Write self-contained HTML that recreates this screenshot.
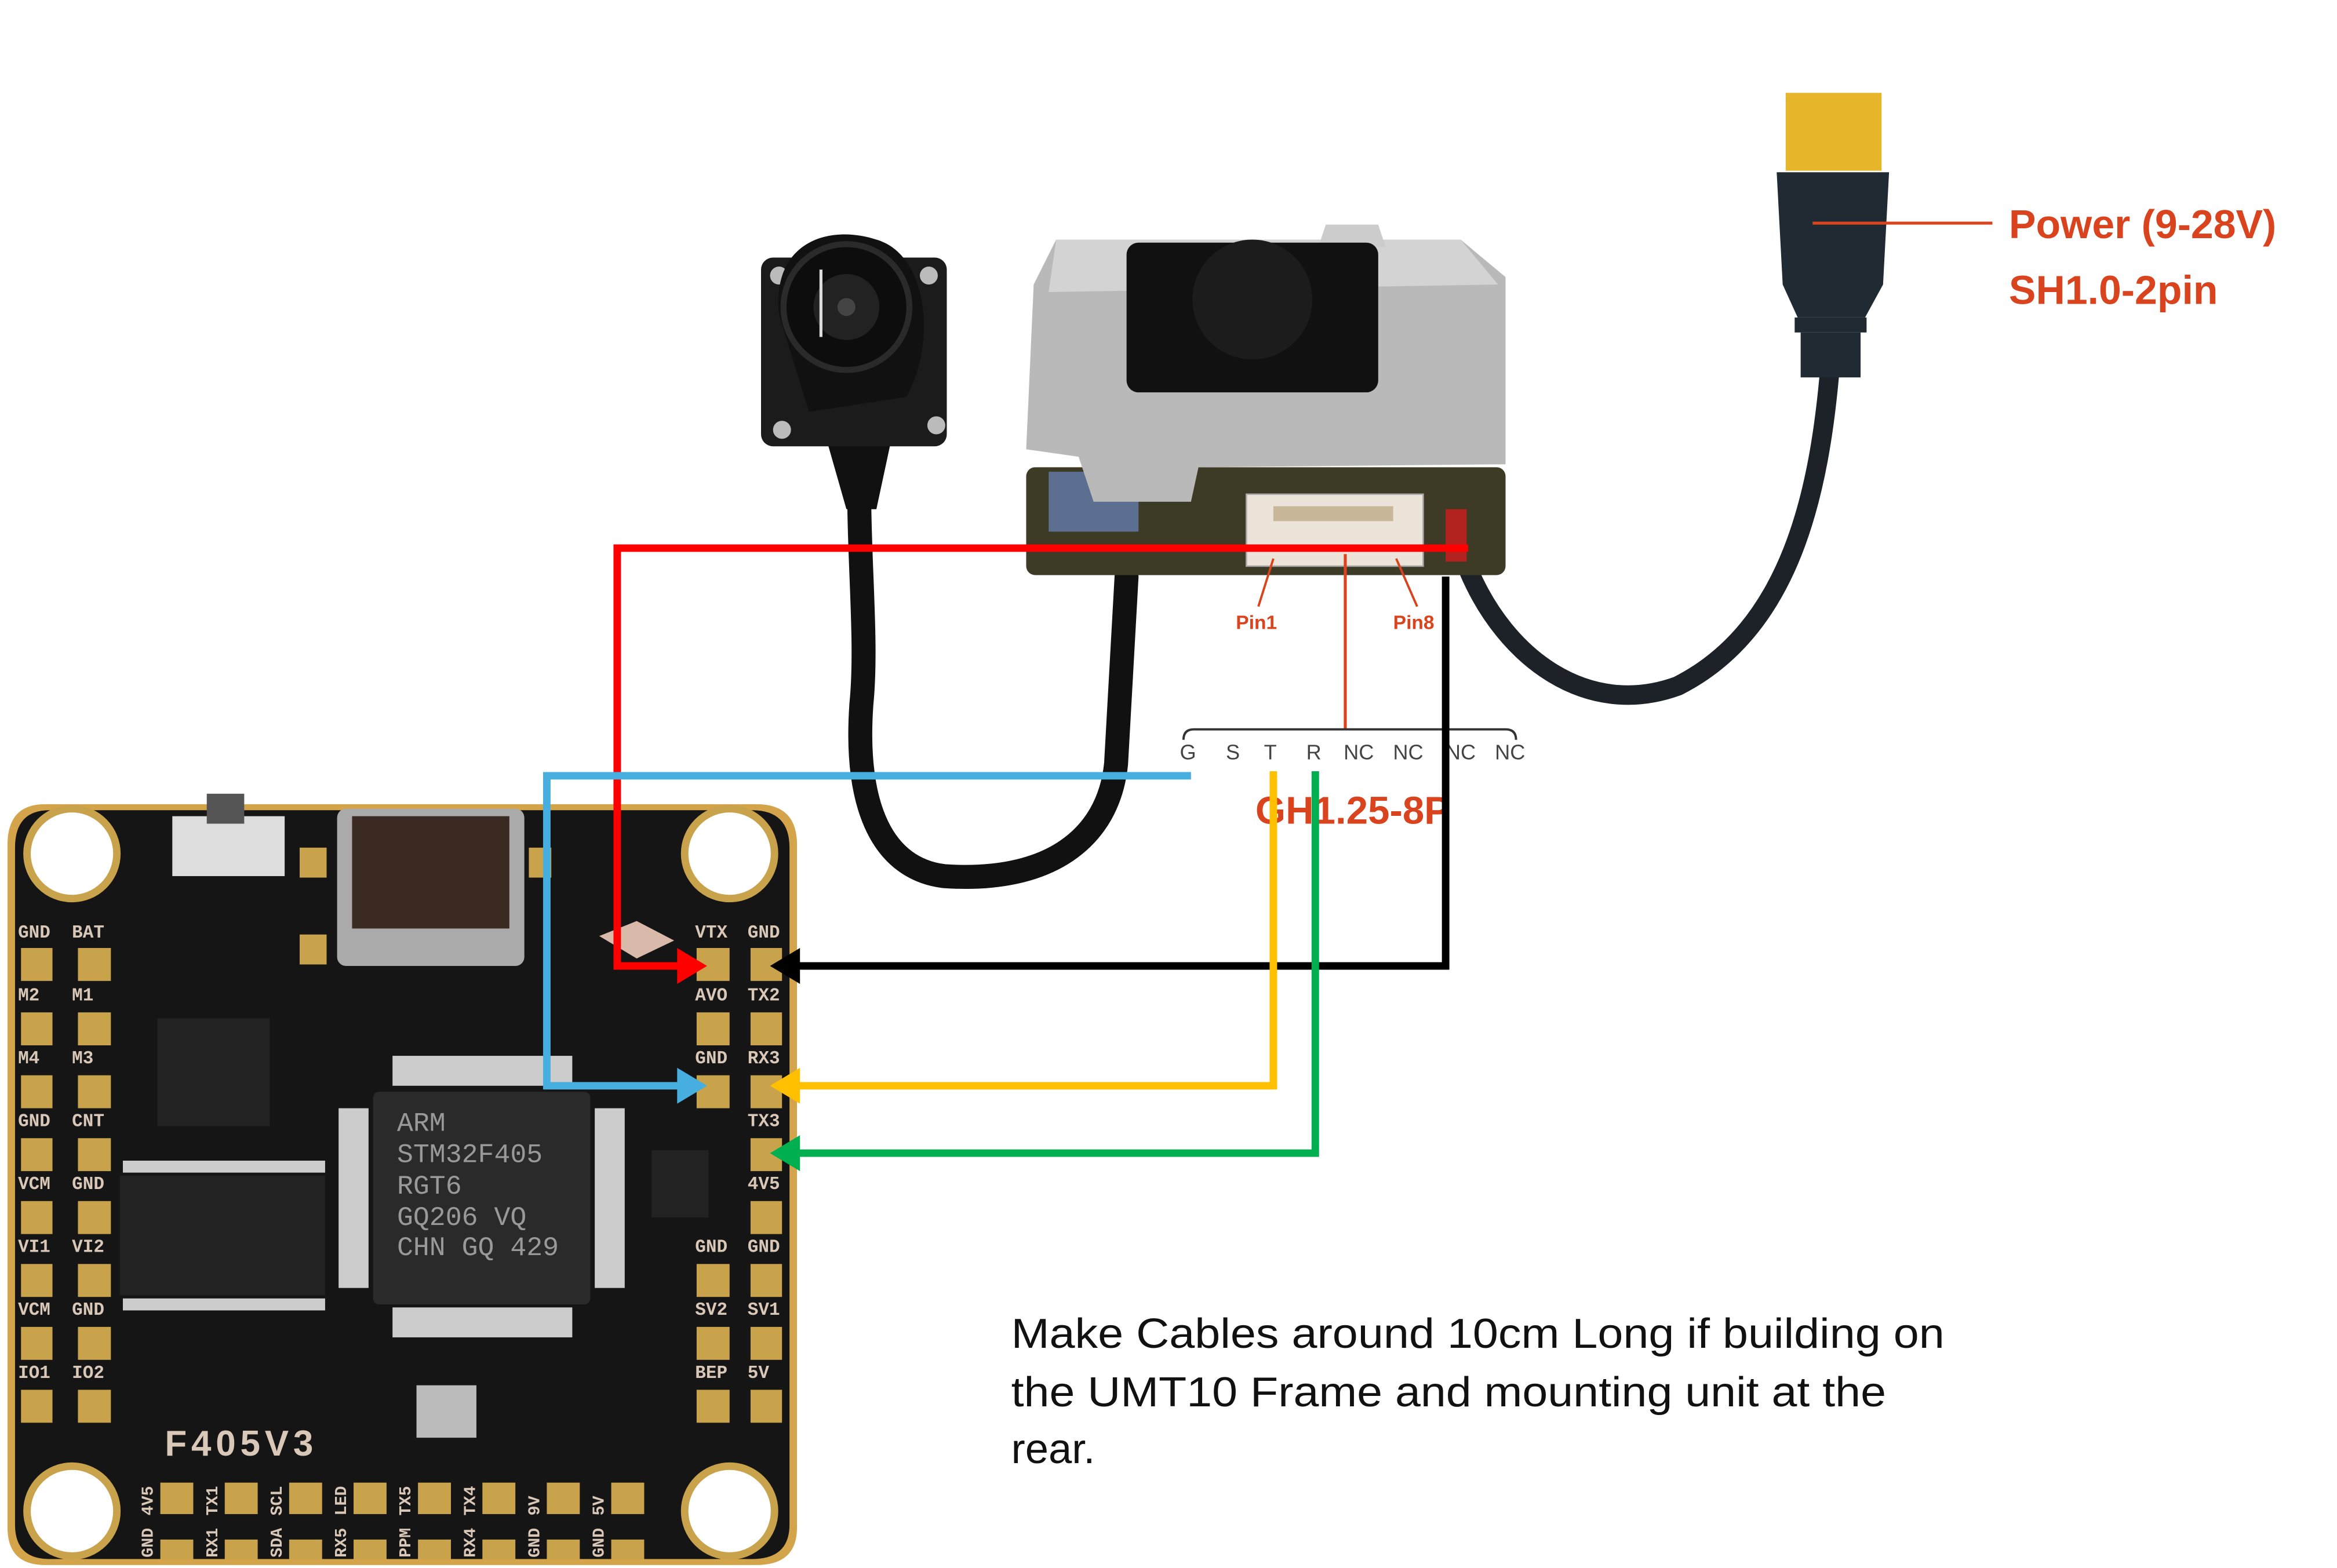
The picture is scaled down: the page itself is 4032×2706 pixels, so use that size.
<!DOCTYPE html>
<html><head><meta charset="utf-8"><style>
html,body{margin:0;padding:0;background:#fff;width:4032px;height:2706px;overflow:hidden}
svg{display:block}
</style></head><body>
<svg width="4032" height="2706" viewBox="0 0 1560 1047" xmlns="http://www.w3.org/2000/svg" font-family="Liberation Sans, sans-serif">
<rect width="1560" height="1047" fill="#fff"/>

<!-- Power cable -->
<path d="M1222 240 C1215 330 1195 420 1120 458 C1060 480 1005 440 980 380" fill="none" stroke="#1c2228" stroke-width="13" stroke-linecap="round"/>
<rect x="1192" y="62" width="64" height="52" fill="#e6b52a"/>
<path d="M1186 115 L1261 115 L1257 190 L1245 212 L1200 212 L1190 190 Z" fill="#1f2a33"/>
<rect x="1198" y="212" width="48" height="10" fill="#1f2a33"/>
<rect x="1202" y="222" width="40" height="30" fill="#1f2a33"/>
<line x1="1210" y1="149" x2="1330" y2="149" stroke="#d9431e" stroke-width="2"/>
<text x="1341" y="159" font-size="27" font-weight="bold" fill="#d9431e">Power (9-28V)</text>
<text x="1341" y="203" font-size="27" font-weight="bold" fill="#d9431e">SH1.0-2pin</text>

<!-- Camera cable -->
<path d="M575 290 C570 350 580 420 575 470 C570 540 590 580 630 585 C700 590 740 560 745 510 C748 460 750 420 752 385" fill="none" stroke="#111" stroke-width="16" stroke-linecap="round"/>
<path d="M545 270 L600 270 L585 340 L565 340 Z" fill="#111"/>
<!-- Camera -->
<rect x="508" y="172" width="124" height="126" rx="8" fill="#1b1b1b"/>
<circle cx="520" cy="184" r="6" fill="#bbb"/><circle cx="620" cy="184" r="6" fill="#bbb"/>
<circle cx="522" cy="287" r="6" fill="#bbb"/><circle cx="625" cy="284" r="6" fill="#bbb"/>
<path d="M520 210 C515 160 555 150 585 160 C620 170 625 230 605 265 L540 275 Z" fill="#111"/>
<circle cx="565" cy="205" r="42" fill="#0d0d0d" stroke="#2a2a2a" stroke-width="4"/>
<circle cx="565" cy="205" r="22" fill="#222"/>
<circle cx="565" cy="205" r="6" fill="#444"/>
<line x1="548" y1="180" x2="548" y2="225" stroke="#ddd" stroke-width="2"/>

<!-- VTX -->
<rect x="685" y="312" width="320" height="72" rx="6" fill="#3d3a25"/>
<rect x="700" y="315" width="60" height="40" fill="#5d6f90"/>
<path d="M705 160 L975 160 L1005 185 L1005 310 L800 312 L795 335 L730 335 L720 305 L685 300 L690 190 Z" fill="#b9b9b9"/>
<path d="M705 160 L975 160 L1000 190 L700 195 Z" fill="#d3d3d3"/>
<path d="M885 150 L920 150 L925 165 L880 165 Z" fill="#ccc"/>
<rect x="752" y="162" width="168" height="100" rx="8" fill="#111"/>
<circle cx="836" cy="200" r="40" fill="#1c1c1c"/>
<rect x="832" y="330" width="118" height="48" fill="#ece4d8" stroke="#aaa"/>
<rect x="850" y="338" width="80" height="10" fill="#c9b79a"/>
<rect x="965" y="340" width="14" height="35" fill="#b2231f"/>
<line x1="850" y1="373" x2="840" y2="405" stroke="#d9431e" stroke-width="1.5"/>
<line x1="932" y1="373" x2="946" y2="405" stroke="#d9431e" stroke-width="1.5"/>
<text x="825" y="420" font-size="13" font-weight="bold" fill="#d9431e">Pin1</text>
<text x="930" y="420" font-size="13" font-weight="bold" fill="#d9431e">Pin8</text>
<line x1="898" y1="370" x2="898" y2="487" stroke="#d9431e" stroke-width="2"/>
<path d="M790 494 Q790 487 797 487 L1005 487 Q1012 487 1012 494" fill="none" stroke="#333" stroke-width="1.5"/>
<g font-size="14" fill="#444" text-anchor="middle">
<text x="793" y="507">G</text><text x="823" y="507">S</text><text x="848" y="507">T</text><text x="877" y="507">R</text>
<text x="907" y="507">NC</text><text x="940" y="507">NC</text><text x="975" y="507">NC</text><text x="1008" y="507">NC</text>
</g>
<text x="838" y="550" font-size="26" font-weight="bold" fill="#d9431e">GH1.25-8P</text>

<!-- Flight controller -->
<path d="M30 537 L505 537 Q532 537 532 564 L532 1020 Q532 1045 505 1045 L30 1045 Q5 1045 5 1020 L5 564 Q5 537 30 537 Z" fill="#d3a44a"/>
<path d="M33 541 L502 541 Q527 541 527 566 L527 1018 Q527 1041 502 1041 L33 1041 Q10 1041 10 1018 L10 566 Q10 541 33 541 Z" fill="#151515"/>
<g fill="#fff" stroke="#c9a24c" stroke-width="5">
<circle cx="48" cy="570" r="30"/><circle cx="487" cy="570" r="30"/><circle cx="48" cy="1009" r="30"/><circle cx="487" cy="1009" r="30"/>
</g>
<rect x="115" y="545" width="75" height="40" fill="#ddd"/><rect x="138" y="530" width="25" height="20" fill="#555"/>
<rect x="225" y="540" width="125" height="105" rx="6" fill="#aaa"/>
<rect x="235" y="545" width="105" height="75" fill="#3a2a22"/>
<rect x="200" y="566" width="18" height="20" fill="#c9a24c"/><rect x="200" y="624" width="18" height="20" fill="#c9a24c"/>
<rect x="353" y="566" width="15" height="20" fill="#c9a24c"/>
<path d="M400 625 L425 615 L450 628 L425 640 Z" fill="#d8b9aa"/>
<rect x="105" y="680" width="75" height="72" fill="#222"/>
<rect x="80" y="785" width="137" height="80" fill="#222"/>
<g fill="#ccc"><rect x="82" y="775" width="135" height="8"/><rect x="82" y="867" width="135" height="8"/></g>
<rect x="249" y="729" width="145" height="142" rx="4" fill="#2a2a2a"/>
<g fill="#ccc"><rect x="262" y="705" width="120" height="20"/><rect x="262" y="873" width="120" height="20"/><rect x="226" y="740" width="20" height="120"/><rect x="397" y="740" width="20" height="120"/></g>
<g fill="#999" font-size="18" font-family="Liberation Mono, monospace">
<text x="265" y="755">ARM</text><text x="265" y="776">STM32F405</text><text x="265" y="797">RGT6</text><text x="265" y="818">GQ206 VQ</text><text x="265" y="838">CHN GQ 429</text>
</g>
<rect x="435" y="768" width="38" height="45" fill="#222"/>
<rect x="278" y="925" width="40" height="35" fill="#bbb"/>
<text x="110" y="972" font-size="24" font-weight="bold" fill="#d9c7b8" letter-spacing="3">F405V3</text>
<g fill="#c9a24c">
<rect x="14" y="633" width="21" height="22"/><rect x="52" y="633" width="22" height="22"/>
<rect x="14" y="676" width="21" height="22"/><rect x="52" y="676" width="22" height="22"/>
<rect x="14" y="718" width="21" height="22"/><rect x="52" y="718" width="22" height="22"/>
<rect x="14" y="760" width="21" height="22"/><rect x="52" y="760" width="22" height="22"/>
<rect x="14" y="802" width="21" height="22"/><rect x="52" y="802" width="22" height="22"/>
<rect x="14" y="844" width="21" height="22"/><rect x="52" y="844" width="22" height="22"/>
<rect x="14" y="886" width="21" height="22"/><rect x="52" y="886" width="22" height="22"/>
<rect x="14" y="928" width="21" height="22"/><rect x="52" y="928" width="22" height="22"/>
<rect x="465" y="633" width="22" height="22"/><rect x="501" y="633" width="21" height="22"/>
<rect x="465" y="676" width="22" height="22"/><rect x="501" y="676" width="21" height="22"/>
<rect x="465" y="718" width="22" height="22"/><rect x="501" y="718" width="21" height="22"/>
<rect x="501" y="760" width="21" height="22"/>
<rect x="501" y="802" width="21" height="22"/>
<rect x="465" y="844" width="22" height="22"/><rect x="501" y="844" width="21" height="22"/>
<rect x="465" y="886" width="22" height="22"/><rect x="501" y="886" width="21" height="22"/>
<rect x="465" y="928" width="22" height="22"/><rect x="501" y="928" width="21" height="22"/>
<rect x="107" y="990" width="22" height="21"/><rect x="150" y="990" width="22" height="21"/><rect x="193" y="990" width="22" height="21"/><rect x="236" y="990" width="22" height="21"/><rect x="279" y="990" width="22" height="21"/><rect x="322" y="990" width="22" height="21"/><rect x="365" y="990" width="22" height="21"/><rect x="408" y="990" width="22" height="21"/>
<rect x="107" y="1028" width="22" height="13"/><rect x="150" y="1028" width="22" height="13"/><rect x="193" y="1028" width="22" height="13"/><rect x="236" y="1028" width="22" height="13"/><rect x="279" y="1028" width="22" height="13"/><rect x="322" y="1028" width="22" height="13"/><rect x="365" y="1028" width="22" height="13"/><rect x="408" y="1028" width="22" height="13"/>
</g>
<g font-size="12" font-weight="bold" fill="#d9c7b8" font-family="Liberation Mono, monospace">
<text x="12" y="626">GND</text><text x="48" y="626">BAT</text>
<text x="12" y="668">M2</text><text x="48" y="668">M1</text>
<text x="12" y="710">M4</text><text x="48" y="710">M3</text>
<text x="12" y="752">GND</text><text x="48" y="752">CNT</text>
<text x="12" y="794">VCM</text><text x="48" y="794">GND</text>
<text x="12" y="836">VI1</text><text x="48" y="836">VI2</text>
<text x="12" y="878">VCM</text><text x="48" y="878">GND</text>
<text x="12" y="920">IO1</text><text x="48" y="920">IO2</text>
<text x="464" y="626">VTX</text><text x="499" y="626">GND</text>
<text x="464" y="668">AVO</text><text x="499" y="668">TX2</text>
<text x="464" y="710">GND</text><text x="499" y="710">RX3</text>
<text x="499" y="752">TX3</text>
<text x="499" y="794">4V5</text>
<text x="464" y="836">GND</text><text x="499" y="836">GND</text>
<text x="464" y="878">SV2</text><text x="499" y="878">SV1</text>
<text x="464" y="920">BEP</text><text x="499" y="920">5V</text>
</g>
<g font-size="11" font-weight="bold" fill="#d9c7b8" font-family="Liberation Mono, monospace">
<text transform="translate(102,1012) rotate(-90)">4V5</text><text transform="translate(145,1012) rotate(-90)">TX1</text><text transform="translate(188,1012) rotate(-90)">SCL</text><text transform="translate(231,1012) rotate(-90)">LED</text><text transform="translate(274,1012) rotate(-90)">TX5</text><text transform="translate(317,1012) rotate(-90)">TX4</text><text transform="translate(360,1012) rotate(-90)">9V</text><text transform="translate(403,1012) rotate(-90)">5V</text>
<text transform="translate(102,1040) rotate(-90)">GND</text><text transform="translate(145,1040) rotate(-90)">RX1</text><text transform="translate(188,1040) rotate(-90)">SDA</text><text transform="translate(231,1040) rotate(-90)">RX5</text><text transform="translate(274,1040) rotate(-90)">PPM</text><text transform="translate(317,1040) rotate(-90)">RX4</text><text transform="translate(360,1040) rotate(-90)">GND</text><text transform="translate(403,1040) rotate(-90)">GND</text>
</g>

<!-- Wires -->
<g fill="none" stroke-width="5" stroke-linejoin="miter">
<polyline points="980,366 412,366 412,645 455,645" stroke="#ff0000"/>
<polyline points="965,385 965,645 530,645" stroke="#000"/>
<polyline points="795,518 365,518 365,725 455,725" stroke="#47afe0"/>
<polyline points="850,515 850,725 530,725" stroke="#ffc000"/>
<polyline points="878,515 878,770 530,770" stroke="#00b050"/>
</g>
<polygon points="472,645 452,633 452,657" fill="#ff0000"/>
<polygon points="514,645 534,633 534,657" fill="#000"/>
<polygon points="472,725 452,713 452,737" fill="#47afe0"/>
<polygon points="514,725 534,713 534,737" fill="#ffc000"/>
<polygon points="514,770 534,758 534,782" fill="#00b050"/>

<!-- Note -->
<g font-size="28" fill="#111">
<text x="675" y="900" textLength="623" lengthAdjust="spacingAndGlyphs">Make Cables around 10cm Long if building on</text>
<text x="675" y="939" textLength="584" lengthAdjust="spacingAndGlyphs">the UMT10 Frame and mounting unit at the</text>
<text x="675" y="977">rear.</text>
</g>
</svg>
</body></html>
